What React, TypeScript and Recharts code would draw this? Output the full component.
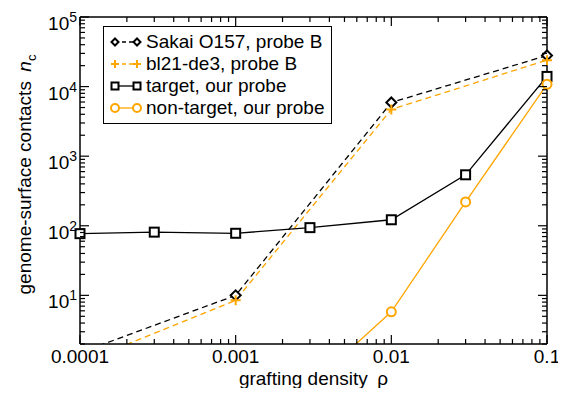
import { LineChart, Line, XAxis, YAxis, Legend } from 'recharts';

const FONT = '"Liberation Sans", Arial, Helvetica, sans-serif';
const ORANGE = '#ffa500';
const BLACK = '#000000';

// grafting density rho and genome-surface contacts n_c for each series
const sakaiRho = [0.0001, 0.001, 0.01, 0.1];
const sakaiNc = [1.5, 10, 5900, 28000];
const bl21Rho = [0.0001, 0.001, 0.01, 0.1];
const bl21Nc = [1.05, 8.5, 4700, 24000];
const targetRho = [0.0001, 0.0003, 0.001, 0.003, 0.01, 0.03, 0.1];
const targetNc = [77, 81, 78, 94, 122, 540, 14000];
const nonTargetRho = [0.003, 0.01, 0.03, 0.1];
const nonTargetNc = [0.5, 5.8, 220, 10800];

const xMajorTicks = [0.0001, 0.001, 0.01, 0.1];
const xMajorLabels = ['0.0001', '0.001', '0.01', '0.1'];
const yMajorTicks = [10, 100, 1000, 10000, 100000];
const yMajorExponents = ['1', '2', '3', '4', '5'];

const X_DOMAIN = [0.0001, 0.1];
const Y_DOMAIN = [2, 100000];

const toPoints = (rho: number[], nc: number[]) => rho.map((x, i) => ({ x, y: nc[i] }));
// markers only for points inside the frame (the lines themselves are clipped)
const visible = (pts: { x: number; y: number }[]) => pts.filter((p) => p.y >= Y_DOMAIN[0]);

// log axis ticks: 1..9 in every decade, plus the closing power of ten
const decadeTicks = (from: number, to: number) => {
  const out: number[] = [];
  for (let e = from; e < to; e++) {
    for (let m = 1; m < 10; m++) out.push(Number((m * Math.pow(10, e)).toPrecision(3)));
  }
  out.push(Number(Math.pow(10, to).toPrecision(3)));
  return out;
};

const xTicks = decadeTicks(-4, -1);
const yTicks = decadeTicks(0, 5).filter((v) => v >= Y_DOMAIN[0]);

const majorIndex = (list: number[], v: number) =>
  list.findIndex((m) => Math.abs(v - m) / m < 1e-6);

const MAJOR = 9;
const MINOR = 5;

type Shape = 'diamond' | 'plus' | 'square' | 'circle';

function Marker({ shape, cx, cy, color, s }: { shape: Shape; cx: number; cy: number; color: string; s: number }) {
  if (shape === 'diamond') {
    return (
      <polygon
        points={`${cx},${cy - s} ${cx + s},${cy} ${cx},${cy + s} ${cx - s},${cy}`}
        fill="#fff"
        stroke={color}
        strokeWidth={2}
      />
    );
  }
  if (shape === 'plus') {
    return <path d={`M${cx - s},${cy}H${cx + s}M${cx},${cy - s}V${cy + s}`} stroke={color} strokeWidth={2} fill="none" />;
  }
  if (shape === 'square') {
    return <rect x={cx - s} y={cy - s} width={2 * s} height={2 * s} fill="#fff" stroke={color} strokeWidth={2} />;
  }
  return <circle cx={cx} cy={cy} r={s} fill="#fff" stroke={color} strokeWidth={2} />;
}

const makeDot = (shape: Shape, color: string, s: number) => (props: any) => {
  const { cx, cy, index } = props;
  if (cx == null || cy == null) return <g key={`d-${index}`} />;
  return (
    <g key={`d-${index}`}>
      <Marker shape={shape} cx={cx} cy={cy} color={color} s={s} />
    </g>
  );
};

function BottomTick({ x, y, payload }: any) {
  const i = majorIndex(xMajorTicks, payload.value);
  return (
    <g>
      <line x1={x} x2={x} y1={y} y2={y - (i >= 0 ? MAJOR : MINOR)} stroke={BLACK} strokeWidth={1.2} />
      {i >= 0 && (
        <text x={x} y={y + 19} textAnchor="middle" fontFamily={FONT} fontSize={19} fill={BLACK}>
          {xMajorLabels[i]}
        </text>
      )}
    </g>
  );
}

function TopTick({ x, y, payload }: any) {
  const i = majorIndex(xMajorTicks, payload.value);
  return <line x1={x} x2={x} y1={y} y2={y + (i >= 0 ? MAJOR : MINOR)} stroke={BLACK} strokeWidth={1.2} />;
}

function LeftTick({ x, y, payload }: any) {
  const i = majorIndex(yMajorTicks, payload.value);
  return (
    <g>
      <line x1={x} x2={x + (i >= 0 ? MAJOR : MINOR)} y1={y} y2={y} stroke={BLACK} strokeWidth={1.2} />
      {i >= 0 && (
        <text x={x - 3} y={y + 13} textAnchor="end" fontFamily={FONT} fontSize={19} fill={BLACK}>
          10
          <tspan dy={-8} fontSize={14}>
            {yMajorExponents[i]}
          </tspan>
        </text>
      )}
    </g>
  );
}

function RightTick({ x, y, payload }: any) {
  const i = majorIndex(yMajorTicks, payload.value);
  return <line x1={x} x2={x - (i >= 0 ? MAJOR : MINOR)} y1={y} y2={y} stroke={BLACK} strokeWidth={1.2} />;
}

const legendItems: { name: string; color: string; dash?: string; shape: Shape; s: number }[] = [
  { name: 'Sakai O157, probe B', color: BLACK, dash: '4 3', shape: 'diamond', s: 3.5 },
  { name: 'bl21-de3, probe B', color: ORANGE, dash: '4 3', shape: 'plus', s: 4 },
  { name: 'target, our probe', color: BLACK, shape: 'square', s: 3.5 },
  { name: 'non-target, our probe', color: ORANGE, shape: 'circle', s: 4 },
];

function LegendBox() {
  return (
    <div
      style={{
        border: '1.5px solid #000',
        background: '#fff',
        padding: '4px 0 4px 3px',
        width: 229,
        boxSizing: 'border-box',
        fontFamily: FONT,
        fontSize: 19,
        color: '#000',
      }}
    >
      {legendItems.map((it) => (
        <div key={it.name} style={{ display: 'flex', alignItems: 'center', height: 22, whiteSpace: 'nowrap' }}>
          <svg width={39} height={22} style={{ flex: 'none' }}>
            <line x1={8} x2={30} y1={11} y2={11} stroke={it.color} strokeWidth={1.3} strokeDasharray={it.dash} />
            <Marker shape={it.shape} cx={8} cy={11} color={it.color} s={it.s} />
            <Marker shape={it.shape} cx={30} cy={11} color={it.color} s={it.s} />
          </svg>
          <span>{it.name}</span>
        </div>
      ))}
    </div>
  );
}

function YTitle({ viewBox }: any) {
  const cx = 23;
  const cy = viewBox.y + viewBox.height / 2 - 6;
  return (
    <text
      x={cx}
      y={cy}
      transform={`rotate(-90 ${cx} ${cy})`}
      textAnchor="middle"
      fontFamily={FONT}
      fontSize={19}
      fill={BLACK}
    >
      {'genome-surface contacts\u2002'}
      <tspan fontStyle="italic">n</tspan>
      <tspan fontSize={13} dy={5}>
        c
      </tspan>
    </text>
  );
}

function XTitle({ viewBox }: any) {
  const cx = viewBox.x + viewBox.width / 2;
  return (
    <text x={cx} y={viewBox.y + 41} textAnchor="middle" fontFamily={FONT} fontSize={19} fill={BLACK}>
      {'grafting density\u2002\u03c1'}
    </text>
  );
}

const series = [
  { pts: toPoints(sakaiRho, sakaiNc), color: BLACK, dash: '6 4', shape: 'diamond' as Shape, s: 5 },
  { pts: toPoints(bl21Rho, bl21Nc), color: ORANGE, dash: '6 4', shape: 'plus' as Shape, s: 5 },
  { pts: toPoints(targetRho, targetNc), color: BLACK, dash: undefined, shape: 'square' as Shape, s: 4.5 },
  { pts: toPoints(nonTargetRho, nonTargetNc), color: ORANGE, dash: undefined, shape: 'circle' as Shape, s: 4.5 },
];

export default function App() {
  return (
    <LineChart width={556} height={380} margin={{ top: 0, right: 0, bottom: 0, left: 0 }}>
      <XAxis
        xAxisId="bottom"
        dataKey="x"
        type="number"
        scale="log"
        domain={X_DOMAIN}
        allowDataOverflow
        ticks={xTicks}
        interval={0}
        tick={<BottomTick />}
        tickSize={0}
        tickMargin={0}
        tickLine={false}
        axisLine={{ stroke: BLACK, strokeWidth: 1.5 }}
        height={44}
        label={<XTitle />}
      />
      <XAxis
        xAxisId="top"
        orientation="top"
        dataKey="x"
        type="number"
        scale="log"
        domain={X_DOMAIN}
        allowDataOverflow
        ticks={xTicks}
        interval={0}
        tick={<TopTick />}
        tickSize={0}
        tickMargin={0}
        tickLine={false}
        axisLine={{ stroke: BLACK, strokeWidth: 1.5 }}
        height={9}
      />
      <YAxis
        yAxisId="left"
        type="number"
        scale="log"
        domain={Y_DOMAIN}
        allowDataOverflow
        ticks={yTicks}
        interval={0}
        tick={<LeftTick />}
        tickSize={0}
        tickMargin={0}
        tickLine={false}
        axisLine={{ stroke: BLACK, strokeWidth: 1.5 }}
        width={72}
        label={<YTitle />}
      />
      <YAxis
        yAxisId="right"
        orientation="right"
        type="number"
        scale="log"
        domain={Y_DOMAIN}
        allowDataOverflow
        ticks={yTicks}
        interval={0}
        tick={<RightTick />}
        tickSize={0}
        tickMargin={0}
        tickLine={false}
        axisLine={{ stroke: BLACK, strokeWidth: 1.5 }}
        width={17}
      />
      {/* unclipped twin axes so markers on the frame are drawn whole */}
      <XAxis xAxisId="mk" dataKey="x" type="number" scale="log" domain={X_DOMAIN} hide />
      <YAxis yAxisId="mk" type="number" scale="log" domain={Y_DOMAIN} hide />
      {series.map((sr, i) => (
        <Line
          key={`line-${i}`}
          xAxisId="bottom"
          yAxisId="left"
          data={sr.pts}
          dataKey="y"
          type="linear"
          stroke={sr.color}
          strokeWidth={1.3}
          strokeDasharray={sr.dash}
          dot={false}
          activeDot={false}
          isAnimationActive={false}
        />
      ))}
      {series.map((sr, i) => (
        <Line
          key={`marks-${i}`}
          xAxisId="mk"
          yAxisId="mk"
          data={visible(sr.pts)}
          dataKey="y"
          stroke="none"
          dot={makeDot(sr.shape, sr.color, sr.s)}
          activeDot={false}
          isAnimationActive={false}
        />
      ))}
      <Legend
        layout="vertical"
        align="center"
        verticalAlign="middle"
        wrapperStyle={{ left: 95, top: 18, width: 229 }}
        content={() => <LegendBox />}
      />
    </LineChart>
  );
}
